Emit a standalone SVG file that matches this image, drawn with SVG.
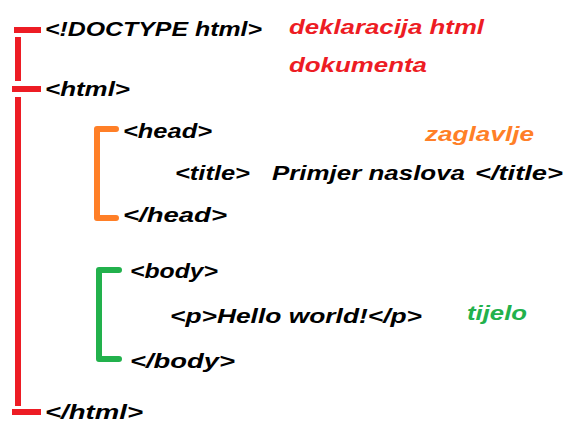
<svg xmlns="http://www.w3.org/2000/svg" width="568" height="428" viewBox="0 0 568 428">
<style>
text{font-family:"Liberation Sans",Arial,sans-serif;font-weight:bold;font-style:italic;font-size:21px}
.k{fill:#000}
.r{fill:#ED1C24}
.o{fill:#FF7F27}
.g{fill:#22B14C}
.br{fill:none;stroke-width:6;stroke-linecap:round;stroke-linejoin:round}
</style>
<rect width="568" height="428" fill="#fff"/>
<g id="brackets">
  <g id="red-bracket" stroke="#ED1C24" stroke-width="6" stroke-linecap="butt">
    <line x1="14" y1="30" x2="41" y2="30"/>
    <line x1="18" y1="37" x2="18" y2="81"/>
    <line x1="12" y1="89" x2="41" y2="89"/>
    <line x1="18" y1="97" x2="18" y2="406"/>
    <line x1="12" y1="412" x2="41" y2="412"/>
  </g>
  <path id="orange-bracket" class="br" stroke="#FF7F27" d="M116,129 H97 V218 H116"/>
  <path id="green-bracket" class="br" stroke="#22B14C" d="M119,270 H99 V359 H119"/>
</g>
<g id="doctype"><text class="k" x="45" y="36" textLength="217" lengthAdjust="spacingAndGlyphs">&lt;!DOCTYPE html&gt;</text></g>
<g id="doctype-label">
  <text class="r" x="289" y="34" textLength="195" lengthAdjust="spacingAndGlyphs">deklaracija html</text>
  <text class="r" x="289" y="72" textLength="138" lengthAdjust="spacingAndGlyphs">dokumenta</text>
</g>
<g id="html-open"><text class="k" x="45" y="96" textLength="85" lengthAdjust="spacingAndGlyphs">&lt;html&gt;</text></g>
<g id="head-open"><text class="k" x="123" y="138" textLength="89" lengthAdjust="spacingAndGlyphs">&lt;head&gt;</text></g>
<g id="title">
  <text class="k" x="175" y="180" textLength="75" lengthAdjust="spacingAndGlyphs">&lt;title&gt;</text>
  <text class="k" x="272" y="180" textLength="193" lengthAdjust="spacingAndGlyphs">Primjer naslova</text>
  <text class="k" x="475" y="180" textLength="88" lengthAdjust="spacingAndGlyphs">&lt;/title&gt;</text>
</g>
<g id="head-close"><text class="k" x="123" y="222" textLength="104" lengthAdjust="spacingAndGlyphs">&lt;/head&gt;</text></g>
<g id="head-label"><text class="o" x="425" y="141" textLength="109" lengthAdjust="spacingAndGlyphs">zaglavlje</text></g>
<g id="body-open"><text class="k" x="130" y="278" textLength="88" lengthAdjust="spacingAndGlyphs">&lt;body&gt;</text></g>
<g id="paragraph"><text class="k" x="170" y="323" textLength="252" lengthAdjust="spacingAndGlyphs">&lt;p&gt;Hello world!&lt;/p&gt;</text></g>
<g id="body-label"><text class="g" x="467" y="320" textLength="60" lengthAdjust="spacingAndGlyphs">tijelo</text></g>
<g id="body-close"><text class="k" x="130" y="368" textLength="105" lengthAdjust="spacingAndGlyphs">&lt;/body&gt;</text></g>
<g id="html-close"><text class="k" x="45" y="419" textLength="98" lengthAdjust="spacingAndGlyphs">&lt;/html&gt;</text></g>
</svg>
